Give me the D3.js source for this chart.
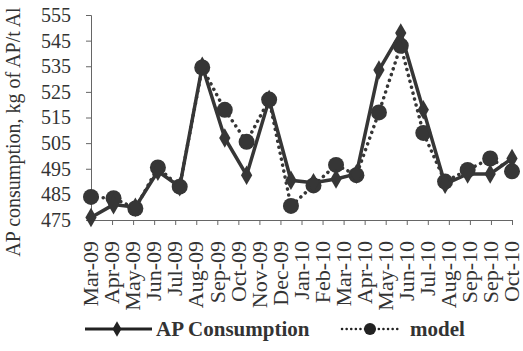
<!DOCTYPE html>
<html>
<head>
<meta charset="utf-8">
<script src="https://cdn.jsdelivr.net/npm/d3@7/dist/d3.min.js"></script>
<style>
  body { margin: 0; background: #fff; }
  svg text { font-family: "Liberation Serif", "Times New Roman", serif; fill: #333; }
</style>
</head>
<body>
<svg id="chart" width="523" height="351"></svg>
<script>
// monthly observations
const months = ['Mar-09', 'Apr-09', 'May-09', 'Jun-09', 'Jul-09', 'Aug-09', 'Sep-09', 'Oct-09',
  'Nov-09', 'Dec-09', 'Jan-10', 'Feb-10', 'Mar-10', 'Apr-10', 'May-10', 'Jun-10', 'Jul-10',
  'Aug-10', 'Sep-10', 'Oct-10'];
const apConsumption = [476, 481, 480, 494, 488, 535, 507, 492.5, 522, 490.5, 489.5, 491, 493,
  533.5, 548, 518, 489, 493, 493, 499];
const model = [484, 483.5, 479.5, 495.5, 488, 534.5, 518, 505.5, 522, 480.5, 488.5, 496.5, 492.5,
  517, 543, 509, 490, 494.5, 499, 494];

// axis labels as printed (date axis, so Sep-10 shows twice)
const tickLabels = ['Mar-09', 'Apr-09', 'May-09', 'Jun-09', 'Jul-09', 'Aug-09', 'Sep-09', 'Oct-09',
  'Nov-09', 'Dec-09', 'Jan-10', 'Feb-10', 'Mar-10', 'Apr-10', 'May-10', 'Jun-10', 'Jul-10',
  'Aug-10', 'Sep-10', 'Sep-10', 'Oct-10'];
const yTicks = [475, 485, 495, 505, 515, 525, 535, 545, 555];

const svg = d3.select('#chart');
const ink = '#363636';
const plot = { left: 91, right: 512, top: 15, bottom: 220 };

const parse = d3.timeParse('%b-%y');
const dates = months.map(parse);

const x = d3.scaleTime()
  .domain(d3.extent(dates))
  .range([plot.left, plot.right]);

const xTick = d3.scalePoint()
  .domain(d3.range(tickLabels.length))
  .range([plot.left, plot.right]);

const y = d3.scaleLinear()
  .domain([475, 555])
  .range([plot.bottom, plot.top]);

// y axis
const yAxis = svg.append('g')
  .attr('transform', 'translate(' + plot.left + ',0)')
  .call(d3.axisLeft(y).tickValues(yTicks).tickSize(5).tickPadding(15));
yAxis.selectAll('text').style('font-size', '20px').attr('fill', ink);
yAxis.selectAll('line, path').attr('stroke', '#666');

// x axis
const xAxis = svg.append('g')
  .attr('transform', 'translate(0,' + plot.bottom + ')')
  .call(d3.axisBottom(xTick).tickSize(5).tickSizeOuter(0).tickFormat(i => tickLabels[i]));
xAxis.select('.domain').attr('stroke', '#666');
xAxis.selectAll('line').attr('stroke', '#666');
xAxis.selectAll('text')
  .style('font-size', '22px')
  .attr('fill', ink)
  .attr('text-anchor', 'end')
  .attr('transform', 'rotate(-90)')
  .attr('x', -21)
  .attr('y', -1)
  .attr('dy', '0.35em');

// y title
svg.append('text')
  .attr('transform', 'translate(20,132) rotate(-90)')
  .attr('text-anchor', 'middle')
  .style('font-size', '20px')
  .attr('fill', ink)
  .text('AP consumption, kg of AP/t Al');

const apData = dates.map((d, i) => [d, apConsumption[i]]);
const modelData = dates.map((d, i) => [d, model[i]]);

const line = d3.line()
  .x(d => x(d[0]))
  .y(d => y(d[1]));

const diamond = d3.symbol().type(d3.symbolDiamond).size(110);

// model (dotted, circles)
svg.append('path')
  .datum(modelData)
  .attr('d', line)
  .attr('fill', 'none')
  .attr('stroke', ink)
  .attr('stroke-width', 3.5)
  .attr('stroke-linecap', 'round')
  .attr('stroke-dasharray', '0.1 6');

svg.selectAll('.model-pt')
  .data(modelData)
  .enter().append('circle')
  .attr('class', 'model-pt')
  .attr('cx', d => x(d[0]))
  .attr('cy', d => y(d[1]))
  .attr('r', 8)
  .attr('fill', ink);

// AP consumption (solid, diamonds)
svg.append('path')
  .datum(apData)
  .attr('d', line)
  .attr('fill', 'none')
  .attr('stroke', ink)
  .attr('stroke-width', 3.5);

svg.selectAll('.ap-pt')
  .data(apData)
  .enter().append('path')
  .attr('class', 'ap-pt')
  .attr('d', diamond)
  .attr('transform', d => 'translate(' + x(d[0]) + ',' + y(d[1]) + ')')
  .attr('fill', ink);

// legend
const lg = svg.append('g').attr('transform', 'translate(0,329)');
lg.append('line')
  .attr('x1', 85).attr('x2', 152)
  .attr('stroke', '#222').attr('stroke-width', 3);
lg.append('path')
  .attr('d', d3.symbol().type(d3.symbolDiamond).size(70))
  .attr('transform', 'translate(117,0)')
  .attr('fill', '#222');
lg.append('text')
  .attr('x', 156).attr('dy', '0.35em')
  .style('font-size', '21px').style('font-weight', 'bold')
  .attr('fill', '#222')
  .text('AP Consumption');

lg.append('line')
  .attr('x1', 342).attr('x2', 398)
  .attr('stroke', '#222').attr('stroke-width', 2.5)
  .attr('stroke-linecap', 'round')
  .attr('stroke-dasharray', '0.1 4.5');
lg.append('circle')
  .attr('cx', 370).attr('r', 6)
  .attr('fill', '#222');
lg.append('text')
  .attr('x', 410).attr('dy', '0.35em')
  .style('font-size', '21px').style('font-weight', 'bold')
  .attr('fill', '#222')
  .text('model');
</script>
</body>
</html>
